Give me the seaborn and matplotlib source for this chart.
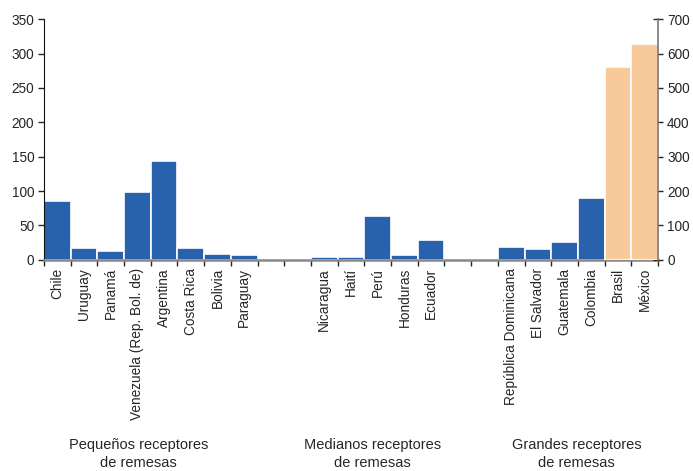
import numpy as np
import pandas as pd
import matplotlib
matplotlib.use('Agg')
import matplotlib.pyplot as plt
import seaborn as sns

# datos
pequenos = ['Chile', 'Uruguay', 'Panamá', 'Venezuela (Rep. Bol. de)', 'Argentina',
            'Costa Rica', 'Bolivia', 'Paraguay']
pequenos_val = [85.5, 16.6, 13, 98.6, 143.7, 16.6, 8.3, 6.8]
medianos = ['Nicaragua', 'Haití', 'Perú', 'Honduras', 'Ecuador']
medianos_val = [3.9, 4.0, 64, 7.3, 29]
grandes = ['República Dominicana', 'El Salvador', 'Guatemala', 'Colombia']
grandes_val = [18.5, 15.6, 25.8, 89.8]
grandes_der = ['Brasil', 'México']
grandes_der_val = [561, 629]
grupos = ['Pequeños receptores\nde remesas', 'Medianos receptores\nde remesas',
          'Grandes receptores\nde remesas']

sns.set_style('white')
plt.rcParams['font.family'] = ['Liberation Sans', 'DejaVu Sans']
plt.rcParams['font.size'] = 9.5

# posiciones con dos huecos entre grupos
pos_p = list(range(0, 8))
pos_m = list(range(10, 15))
pos_g = list(range(17, 21))
pos_d = [21, 22]

izq = pd.DataFrame({'pos': pos_p + pos_m + pos_g,
                    'pais': pequenos + medianos + grandes,
                    'valor': pequenos_val + medianos_val + grandes_val})
der = pd.DataFrame({'pos': pos_d, 'pais': grandes_der, 'valor': grandes_der_val})

fig = plt.figure(figsize=(6.93, 4.71), dpi=100)
ax = fig.add_axes([0.0635, 0.4486, 0.886, 0.5104])
ax2 = ax.twinx()

azul = '#2862ad'
naranja = '#f8c999'
sns.barplot(data=izq, x='pos', y='valor', native_scale=True, width=1, color=azul,
            edgecolor='white', linewidth=1.2, saturation=1, ax=ax)
sns.barplot(data=der, x='pos', y='valor', native_scale=True, width=1, color=naranja,
            edgecolor='white', linewidth=1.2, saturation=1, ax=ax2)

ax.set_xlim(-0.5, 22.5)
ax.set_ylim(0, 350)
ax2.set_ylim(0, 700)
ax.set_yticks(range(0, 351, 50))
ax2.set_yticks(range(0, 701, 100))
ax.set_xlabel('')
ax.set_ylabel('')
ax2.set_ylabel('')

todos_pos = pos_p + pos_m + pos_g + pos_d
todos_lab = pequenos + medianos + grandes + grandes_der
ax.set_xticks(todos_pos)
ax.set_xticklabels(todos_lab, rotation=90)
ax.set_xticks(np.arange(-0.5, 23, 1), minor=True)
ax.tick_params(axis='x', which='major', bottom=False, length=0, pad=6, labelsize=9.8)
ax.tick_params(axis='x', which='minor', bottom=True, length=4, width=1,
               color='#222222', direction='out')
ax.tick_params(axis='y', left=True, length=4, width=1, direction='out', pad=3,
               labelsize=9.8)
ax2.tick_params(axis='y', right=True, length=7, width=1, direction='inout', pad=3,
                labelsize=9.8)

for s in ['top']:
    ax.spines[s].set_visible(False)
    ax2.spines[s].set_visible(False)
ax.spines['right'].set_visible(False)
ax2.spines['left'].set_visible(False)
ax2.spines['bottom'].set_visible(False)
ax.spines['left'].set_color('#111111')
ax.spines['bottom'].set_color('#888888')
ax.spines['bottom'].set_linewidth(1.8)
ax2.spines['right'].set_color('#777777')
ax2.spines['right'].set_linewidth(1.2)

# etiquetas de grupo
centros = [3.05, 11.8, 19.45]
for c, g in zip(centros, grupos):
    ax.text(c, -0.74, g, transform=ax.get_xaxis_transform(), ha='center', va='top',
            fontsize=10.5, linespacing=1.38)

fig.savefig('out.png', dpi=100)
